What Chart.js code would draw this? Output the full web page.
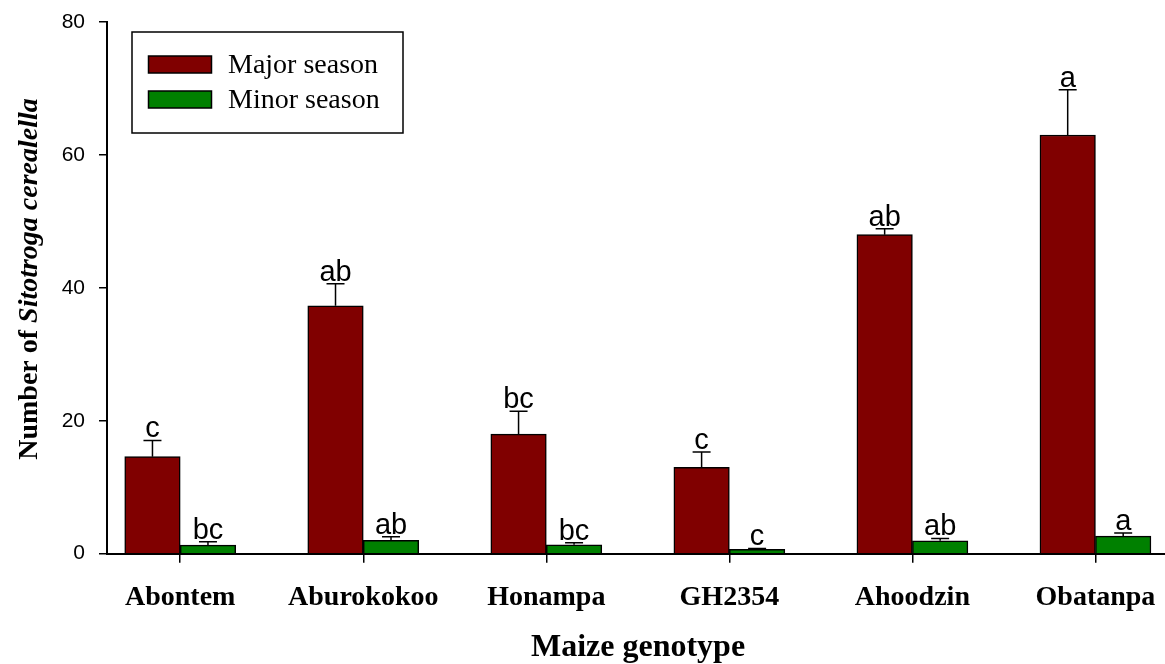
<!DOCTYPE html>
<html>
<head>
<meta charset="utf-8">
<script src="https://cdn.jsdelivr.net/npm/chart.js@4.4.1/dist/chart.umd.min.js"></script>
<style>
  html, body { margin: 0; padding: 0; background: #fff; }
</style>
</head>
<body>
<canvas id="chart" width="1165" height="664"></canvas>
<script>
var genotypes = ["Abontem", "Aburokokoo", "Honampa", "GH2354", "Ahoodzin", "Obatanpa"];
var major = [14.6, 37.3, 18.0, 13.0, 48.0, 63.0];
var majorErr = [2.45, 3.3, 3.45, 2.3, 0.9, 6.8];
var minor = [1.3, 2.0, 1.35, 0.65, 1.95, 2.65];
var minorErr = [0.5, 0.55, 0.3, 0.15, 0.35, 0.45];
var majorLetters = ["c", "ab", "bc", "c", "ab", "a"];
var minorLetters = ["bc", "ab", "bc", "c", "ab", "a"];
var yTicks = [0, 20, 40, 60, 80];

var serif = "'Liberation Serif', 'Times New Roman', serif";
var sans = "'Liberation Sans', Arial, sans-serif";

function toPoints(values) {
    return values.map(function (v, i) { return {x: i, y: v}; });
}

// chart.js adds label overhang to the layout, we want the plot box fixed
function noPadding(scale) {
    scale.paddingTop = 0;
    scale.paddingBottom = 0;
    scale.paddingLeft = 0;
    scale.paddingRight = 0;
}

// error bars and significance letters on top of each bar
var errorBars = {
    id: 'errorBars',
    afterDatasetsDraw: function (chart) {
        var ctx = chart.ctx;
        var yScale = chart.scales.y;
        var errs = [majorErr, minorErr];
        var letters = [majorLetters, minorLetters];
        ctx.save();
        ctx.strokeStyle = '#000';
        ctx.lineWidth = 1.5;
        ctx.fillStyle = '#000';
        ctx.font = '29px ' + sans;
        ctx.textAlign = 'center';
        ctx.textBaseline = 'alphabetic';
        chart.data.datasets.forEach(function (ds, d) {
            var meta = chart.getDatasetMeta(d);
            meta.data.forEach(function (bar, i) {
                var top = yScale.getPixelForValue(ds.data[i].y + errs[d][i]);
                ctx.beginPath();
                ctx.moveTo(bar.x, bar.y);
                ctx.lineTo(bar.x, top);
                ctx.moveTo(bar.x - 9, top);
                ctx.lineTo(bar.x + 9, top);
                ctx.stroke();
                ctx.fillText(letters[d][i], bar.x, top - 3);
            });
        });
        ctx.restore();
    }
};

// legend box, axis titles
var decorations = {
    id: 'decorations',
    afterDraw: function (chart) {
        var ctx = chart.ctx;
        ctx.save();

        ctx.strokeStyle = '#000';
        ctx.lineWidth = 1.5;
        ctx.strokeRect(132, 32, 271, 101);
        chart.data.datasets.forEach(function (ds, d) {
            var y = 56 + d * 35;
            ctx.fillStyle = ds.backgroundColor;
            ctx.fillRect(148.5, y, 63, 17);
            ctx.strokeRect(148.5, y, 63, 17);
            ctx.fillStyle = '#000';
            ctx.font = '28px ' + serif;
            ctx.textAlign = 'left';
            ctx.textBaseline = 'alphabetic';
            ctx.fillText(ds.label, 228, y + 17);
        });

        ctx.font = 'bold 32px ' + serif;
        ctx.textAlign = 'center';
        ctx.fillText('Maize genotype', 638, 656);

        ctx.translate(37, 279);
        ctx.rotate(-Math.PI / 2);
        var p1 = 'Number of ';
        var p2 = 'Sitotroga cerealella';
        var f1 = 'bold 28px ' + serif;
        var f2 = 'italic bold 28px ' + serif;
        ctx.font = f1;
        var w1 = ctx.measureText(p1).width;
        ctx.font = f2;
        var w2 = ctx.measureText(p2).width;
        var x0 = -(w1 + w2) / 2;
        ctx.textAlign = 'left';
        ctx.font = f1;
        ctx.fillText(p1, x0, 0);
        ctx.font = f2;
        ctx.fillText(p2, x0 + w1, 0);

        ctx.restore();
    }
};

var ctx = document.getElementById('chart').getContext('2d');
var myChart = new Chart(ctx, {
    type: 'bar',
    data: {
        datasets: [{
            label: 'Major season',
            data: toPoints(major),
            backgroundColor: '#800000',
            borderColor: '#000',
            borderWidth: 1.5
        }, {
            label: 'Minor season',
            data: toPoints(minor),
            backgroundColor: '#008000',
            borderColor: '#000',
            borderWidth: 1.5
        }]
    },
    options: {
        responsive: false,
        animation: false,
        devicePixelRatio: 1,
        barThickness: 55.5,
        layout: {padding: {top: 22, right: 0, left: 0, bottom: 0}},
        plugins: {
            legend: {display: false},
            tooltip: {enabled: false}
        },
        scales: {
            x: {
                type: 'linear',
                offset: false,
                min: -0.4,
                max: 5.38,
                afterBuildTicks: function (scale) {
                    scale.ticks = genotypes.map(function (g, i) { return {value: i}; });
                },
                afterFit: function (scale) {
                    scale.height = 110.3;
                    noPadding(scale);
                },
                ticks: {
                    autoSkip: false,
                    maxRotation: 0,
                    padding: 18,
                    color: '#000',
                    font: {family: serif, size: 28, weight: 'bold'},
                    callback: function (value, index) { return genotypes[index]; }
                },
                grid: {offset: false, drawOnChartArea: false, tickLength: 9, color: '#000', lineWidth: 1.5},
                border: {color: '#000', width: 2}
            },
            y: {
                min: 0,
                max: 80,
                afterBuildTicks: function (scale) {
                    scale.ticks = yTicks.map(function (v) { return {value: v}; });
                },
                afterFit: function (scale) {
                    scale.width = 107;
                    noPadding(scale);
                },
                ticks: {
                    padding: 14,
                    color: '#000',
                    font: {family: sans, size: 21}
                },
                grid: {drawOnChartArea: false, tickLength: 8, color: '#000', lineWidth: 1.5},
                border: {color: '#000', width: 2}
            }
        }
    },
    plugins: [errorBars, decorations]
});
</script>
</body>
</html>
